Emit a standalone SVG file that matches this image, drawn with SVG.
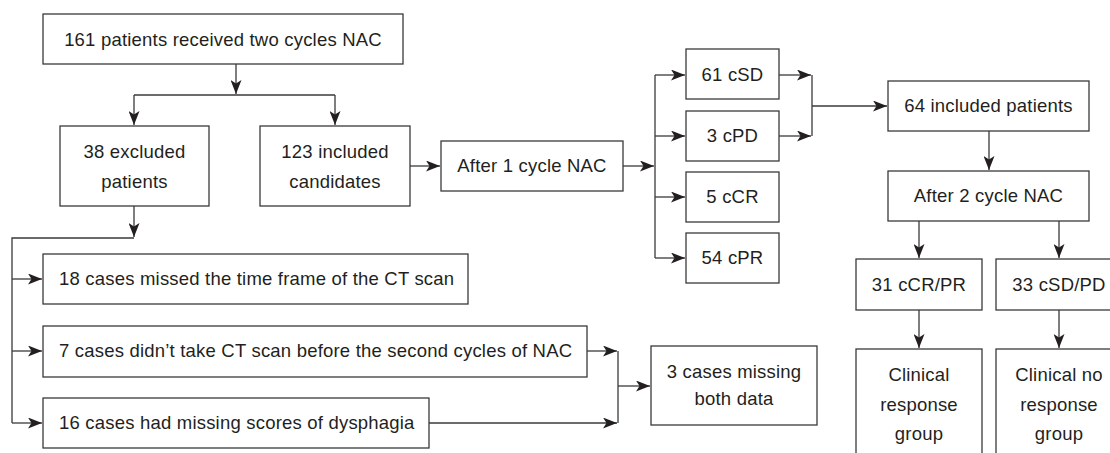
<svg xmlns="http://www.w3.org/2000/svg" width="1110" height="453" viewBox="0 0 1110 453">
<defs>
<marker id="ah" viewBox="0 0 14 11" refX="14" refY="5.5" markerWidth="14" markerHeight="11" markerUnits="userSpaceOnUse" orient="auto">
<path d="M0,0 L14,5.5 L0,11 L3.5,5.5 Z" fill="#231f20"/>
</marker>
<style>
.box{fill:#fff;stroke:#3a3a3a;stroke-width:1.3}
.t{font-family:"Liberation Sans",Arial,Helvetica,sans-serif;font-size:18.5px;letter-spacing:0.2px;fill:#231f20;text-anchor:middle}
.l{text-anchor:start}
.c{fill:none;stroke:#3a3a3a;stroke-width:1.3}
.a{marker-end:url(#ah)}
</style>
</defs>
<rect width="1110" height="453" fill="#fff"/>
<g id="connectors">
<path class="c a" d="M236,64 V94"/>
<path class="c" d="M134,95 H335"/>
<path class="c a" d="M134,95 V125"/>
<path class="c a" d="M335,95 V125"/>
<path class="c a" d="M410,166 H440"/>
<path class="c a" d="M623,166 H654"/>
<path class="c" d="M655,75 V258"/>
<path class="c a" d="M655,75 H685"/>
<path class="c a" d="M655,136 H685"/>
<path class="c a" d="M655,197 H685"/>
<path class="c a" d="M655,258 H685"/>
<path class="c a" d="M779,75 H811"/>
<path class="c a" d="M779,136 H811"/>
<path class="c" d="M812,75 V136"/>
<path class="c a" d="M812,106 H887"/>
<path class="c a" d="M989,131 V170"/>
<path class="c a" d="M919,221 V258"/>
<path class="c a" d="M1059,221 V258"/>
<path class="c a" d="M919,310 V348"/>
<path class="c a" d="M1059,310 V348"/>
<path class="c a" d="M134,206 V237"/>
<path class="c" d="M134,238 H12 V423"/>
<path class="c a" d="M12,279 H42"/>
<path class="c a" d="M12,351 H42"/>
<path class="c a" d="M12,423 H42"/>
<path class="c a" d="M587,351 H617"/>
<path class="c a" d="M429,423 H617"/>
<path class="c" d="M618,351 V423"/>
<path class="c a" d="M618,386 H650"/>
</g>
<g id="n-start"><rect class="box" x="43" y="14" width="360" height="50"/><text class="t" x="223" y="46">161 patients received two cycles NAC</text></g>
<g id="n-excluded"><rect class="box" x="60" y="126" width="149" height="80"/><text class="t" x="134.5" y="158">38 excluded</text><text class="t" x="134.5" y="188">patients</text></g>
<g id="n-included"><rect class="box" x="260" y="126" width="150" height="80"/><text class="t" x="335" y="158">123 included</text><text class="t" x="335" y="188">candidates</text></g>
<g id="n-after1"><rect class="box" x="441" y="141" width="182" height="50"/><text class="t" x="532" y="172">After 1 cycle NAC</text></g>
<g id="n-csd"><rect class="box" x="686" y="49" width="93" height="50"/><text class="t" x="732.5" y="81">61 cSD</text></g>
<g id="n-cpd"><rect class="box" x="686" y="111" width="93" height="50"/><text class="t" x="732.5" y="142">3 cPD</text></g>
<g id="n-ccr"><rect class="box" x="686" y="172" width="93" height="50"/><text class="t" x="732.5" y="203">5 cCR</text></g>
<g id="n-cpr"><rect class="box" x="686" y="233" width="93" height="50"/><text class="t" x="732.5" y="264">54 cPR</text></g>
<g id="n-64"><rect class="box" x="888" y="81" width="201" height="50"/><text class="t" x="988.5" y="112">64 included patients</text></g>
<g id="n-after2"><rect class="box" x="888" y="171" width="201" height="50"/><text class="t" x="988.5" y="202">After 2 cycle NAC</text></g>
<g id="n-ccrpr"><rect class="box" x="856" y="259" width="126" height="51"/><text class="t" x="919" y="291">31 cCR/PR</text></g>
<g id="n-csdpd"><rect class="box" x="996" y="259" width="126" height="51"/><text class="t" x="1059" y="291">33 cSD/PD</text></g>
<g id="n-resp"><rect class="box" x="856" y="349" width="126" height="130"/><text class="t" x="919" y="381">Clinical</text><text class="t" x="919" y="411">response</text><text class="t" x="919" y="440">group</text></g>
<g id="n-noresp"><rect class="box" x="996" y="349" width="126" height="130"/><text class="t" x="1059" y="381">Clinical no</text><text class="t" x="1059" y="411">response</text><text class="t" x="1059" y="440">group</text></g>
<g id="n-18"><rect class="box" x="43" y="254" width="425" height="50"/><text class="t l" x="59" y="285">18 cases missed the time frame of the CT scan</text></g>
<g id="n-7"><rect class="box" x="43" y="326" width="544" height="51"/><text class="t l" x="59" y="357">7 cases didn’t take CT scan before the second cycles of NAC</text></g>
<g id="n-16"><rect class="box" x="43" y="398" width="386" height="50"/><text class="t l" x="59" y="429">16 cases had missing scores of dysphagia</text></g>
<g id="n-3"><rect class="box" x="651" y="346" width="166" height="79"/><text class="t" x="734" y="378">3 cases missing</text><text class="t" x="734" y="405">both data</text></g>
</svg>
